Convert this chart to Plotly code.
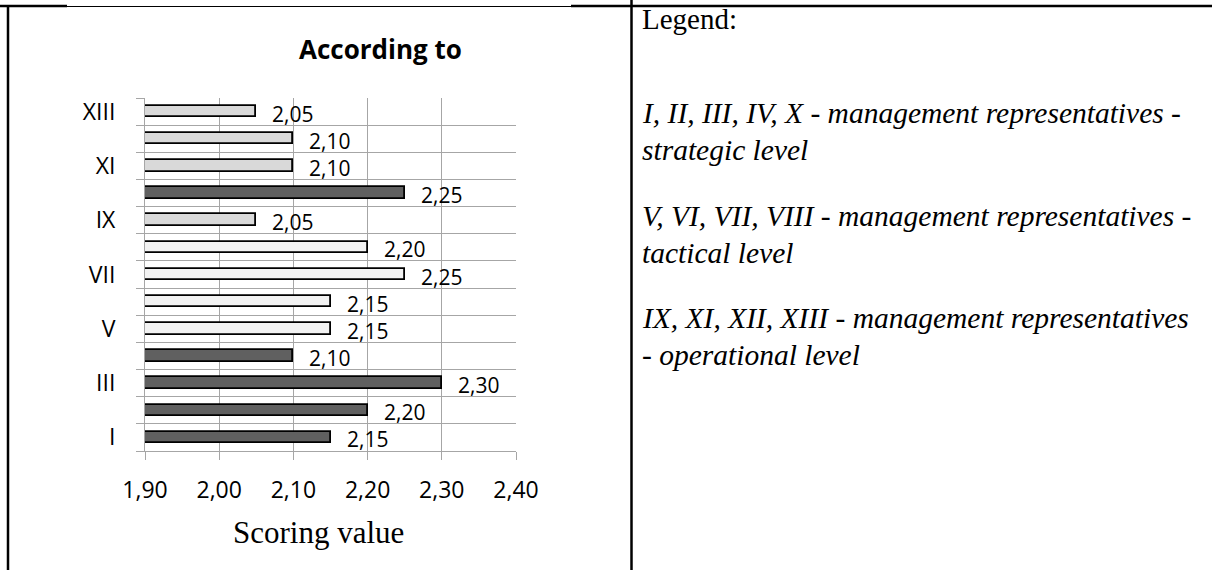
import plotly.graph_objects as go

# Scores per management representative (Roman numerals I..XIII)
categories = ["I", "II", "III", "IV", "V", "VI", "VII", "VIII", "IX", "X", "XI", "XII", "XIII"]
scores = [2.15, 2.20, 2.30, 2.10, 2.15, 2.15, 2.25, 2.20, 2.05, 2.25, 2.10, 2.10, 2.05]
levels = ["strategic", "strategic", "strategic", "strategic",
          "tactical", "tactical", "tactical", "tactical",
          "operational", "strategic", "operational", "operational", "operational"]
shown_labels = ["I", "III", "V", "VII", "IX", "XI", "XIII"]
x_ticks = [1.90, 2.00, 2.10, 2.20, 2.30, 2.40]

title_text = "According to"
x_title = "Scoring value"
legend_title = "Legend:"
legend_lines = [
    ["I, II, III, IV, X - management representatives -", "strategic level"],
    ["V, VI, VII, VIII - management representatives -", "tactical level"],
    ["IX, XI, XII, XIII - management representatives", "- operational level"],
]

level_colors = {"strategic": "#606060", "tactical": "#f2f2f2", "operational": "#d9d9d9"}

W, H = 1212, 570
ML, MR, MT, MB = 145, 696, 98, 119
PW, PH = W - ML - MR, H - MT - MB
AXIS_MIN, AXIS_MAX = x_ticks[0], x_ticks[-1]
GRID = "#a6a6a6"


def px(x):
    return (x - ML) / PW


def py(y):
    return 1 - (y - MT) / PH


positions = list(range(1, len(categories) + 1))
tick_pos = [positions[categories.index(c)] for c in shown_labels]
boundaries = [p - 0.5 for p in positions] + [positions[-1] + 0.5]

fig = go.Figure()
fig.add_trace(go.Bar(
    y=positions,
    x=[s - AXIS_MIN for s in scores],
    base=AXIS_MIN,
    orientation="h",
    width=0.42,
    marker=dict(color=[level_colors[l] for l in levels],
                line=dict(color="#000000", width=1.8)),
    customdata=categories,
    hovertemplate="%{customdata}: %{x}<extra></extra>",
    showlegend=False,
))

annotations = []
# value labels to the right of each bar
for p, s in zip(positions, scores):
    annotations.append(dict(
        x=s, y=p, xref="x", yref="y", text=f"{s:.2f}".replace(".", ","),
        showarrow=False, xanchor="left", yanchor="middle", xshift=14, yshift=-2,
        font=dict(family="Open Sans", size=21, color="#000000"),
    ))

# chart title and axis title
annotations.append(dict(
    x=px(380), y=py(49), xref="paper", yref="paper", text=f"<b>{title_text}</b>",
    showarrow=False, xanchor="center", yanchor="middle",
    font=dict(family="Open Sans", size=26, color="#000000"),
))
annotations.append(dict(
    x=px(318), y=py(532), xref="paper", yref="paper", text=x_title,
    showarrow=False, xanchor="center", yanchor="middle",
    font=dict(family="Liberation Serif", size=31, color="#000000"),
))

# explanatory text in the right-hand cell
annotations.append(dict(
    x=px(640), y=py(19), xref="paper", yref="paper", text=legend_title,
    showarrow=False, xanchor="left", yanchor="middle",
    font=dict(family="Liberation Serif", size=29, color="#000000"),
))
para_tops = [113, 216, 318]
for top, lines in zip(para_tops, legend_lines):
    for i, line in enumerate(lines):
        annotations.append(dict(
            x=px(640), y=py(top + i * 37), xref="paper", yref="paper",
            text=f"<i>{line}</i>", showarrow=False, xanchor="left", yanchor="middle",
            font=dict(family="Liberation Serif", size=29.5, color="#000000"),
        ))

# table borders around the chart and text cells
border = "#000000"
shapes = [
    dict(type="line", xref="paper", yref="paper", x0=px(0), x1=px(67), y0=py(6), y1=py(6),
         line=dict(color=border, width=2.5)),
    dict(type="line", xref="paper", yref="paper", x0=px(67), x1=px(571), y0=py(6.5), y1=py(6.5),
         line=dict(color=border, width=1)),
    dict(type="line", xref="paper", yref="paper", x0=px(571), x1=px(W), y0=py(6), y1=py(6),
         line=dict(color=border, width=2.5)),
    dict(type="line", xref="paper", yref="paper", x0=px(8), x1=px(8), y0=py(5), y1=py(H),
         line=dict(color=border, width=2.5)),
    dict(type="line", xref="paper", yref="paper", x0=px(631.5), x1=px(631.5), y0=py(0), y1=py(H),
         line=dict(color=border, width=2.5)),
]

fig.update_layout(
    width=W, height=H,
    margin=dict(l=ML, r=MR, t=MT, b=MB, pad=0),
    paper_bgcolor="#ffffff", plot_bgcolor="#ffffff",
    separators=", ",
    bargap=0,
    annotations=annotations,
    shapes=shapes,
    xaxis=dict(
        range=[AXIS_MIN, AXIS_MAX], tickvals=x_ticks, tickformat=".2f",
        showgrid=True, gridcolor=GRID, gridwidth=1,
        showline=True, linecolor=GRID, linewidth=1,
        ticks="outside", ticklen=8, tickcolor=GRID, tickwidth=1,
        ticklabelstandoff=10,
        tickfont=dict(family="Open Sans", size=23, color="#000000"),
        zeroline=False, fixedrange=True,
    ),
    yaxis=dict(
        range=[0.5, len(categories) + 0.5],
        tickvals=tick_pos, ticktext=shown_labels,
        showgrid=False, ticks="",
        showline=True, linecolor=GRID, linewidth=1,
        ticklabelstandoff=24,
        tickfont=dict(family="Open Sans", size=23, color="#000000"),
        minor=dict(tickvals=boundaries, showgrid=True, gridcolor=GRID, gridwidth=1,
                   ticks="outside", ticklen=8, tickcolor=GRID, tickwidth=1),
        zeroline=False, fixedrange=True,
    ),
)

fig.write_html("out.html")
